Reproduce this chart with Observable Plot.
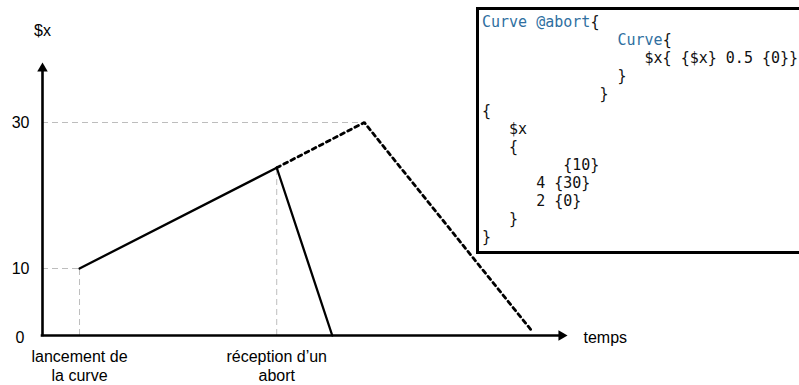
<!DOCTYPE html>
<html>
<head>
<meta charset="utf-8">
<script src="https://cdn.jsdelivr.net/npm/d3@7"></script>
<script src="https://cdn.jsdelivr.net/npm/@observablehq/plot@0.6"></script>
<style>
  html, body { margin: 0; padding: 0; background: #fff; overflow: hidden; }
  #wrap { position: relative; width: 799px; height: 385px; overflow: hidden; background: #fff; }
  #wrap svg { position: absolute; left: 0; top: 0; }
  #code {
    position: absolute; left: 476px; top: 7px; width: 420px; height: 247px;
    box-sizing: border-box; border: 3px solid #000; background: #fff;
    margin: 0; padding: 4px 0 0 3px;
    font-family: "DejaVu Sans Mono", monospace; font-size: 15px; line-height: 17.9px;
    color: #111; white-space: pre;
  }
  #code .ln { height: 17.9px; }
  #code .kw { color: #2f6f9f; }
</style>
</head>
<body>
<div id="wrap"></div>
<script>
// ---- data ----
const xStart = -0.52;          // time at the origin of the axes
const xEnd = 6.77;             // time at the end of the time axis
const yTop = 37.4;             // $x at the top of the value axis
const yTicks = [0, 10, 30];
const yLabel = "$x";
const xLabel = "temps";

const curveTime = [0, 2.77];           // lancement -> réception d'un abort
const curveValue = [10, 23.8];
const abortTime = [2.77, 3.55];        // descente après l'abort
const abortValue = [23.8, 0];
const plannedTime = [2.77, 4, 6.36];   // suite prévue (pointillés)
const plannedValue = [23.8, 30, 0.6];

const eventTimes = [0, 2.77];
const eventValues = [10, 23.8];
const eventLabels = ["lancement de\nla curve", "réception d’un\nabort"];

const peakTime = 4;
const peakValue = 30;

const codeLines = [
  "Curve @abort{",
  "               Curve{",
  "                  $x{ {$x} 0.5 {0}}",
  "               }",
  "             }",
  "{",
  "   $x",
  "   {",
  "         {10}",
  "      4 {30}",
  "      2 {0}",
  "   }",
  "}"
];
const codeKeywords = ["Curve", "@abort"];

// ---- tables built from the arrays ----
const curve = curveTime.map((t, i) => ({time: t, value: curveValue[i]}));
const abort = abortTime.map((t, i) => ({time: t, value: abortValue[i]}));
const planned = plannedTime.map((t, i) => ({time: t, value: plannedValue[i]}));
const events = eventTimes.map((t, i) => ({time: t, value: eventValues[i], label: eventLabels[i]}));
const guidesH = [{time: eventTimes[0], value: eventValues[0]}, {time: peakTime, value: peakValue}];
const guidesV = events;
const arrows = [{x: xStart, y: yTop, rotate: 0}, {x: xEnd, y: 0, rotate: 90}];

// schematic (non-uniform) value axis: piecewise stretch of $x
const stretch = d3.scaleLinear().domain([0, 10, 30, yTop]).range([0, 67, 213, 267]);

const chart = Plot.plot({
  width: 799,
  height: 385,
  x: {domain: [xStart, xEnd], range: [42, 561], axis: null},
  y: {transform: v => stretch(v), domain: [0, 267], range: [335, 68], axis: null},
  style: {fontFamily: "'Liberation Sans', Arial, Helvetica, sans-serif", fontSize: "16px", background: "white", color: "black"},
  marks: [
    // grey guides
    Plot.ruleY(guidesH, {y: "value", x1: xStart, x2: "time", stroke: "#bdbdbd", strokeWidth: 1, strokeDasharray: "6,4"}),
    Plot.ruleX(guidesV, {x: "time", y1: 0, y2: "value", stroke: "#bdbdbd", strokeWidth: 1, strokeDasharray: "6,4"}),
    // curves
    Plot.line(planned, {x: "time", y: "value", stroke: "black", strokeWidth: 2.8, strokeDasharray: "4,4", strokeLinejoin: "miter"}),
    Plot.line(curve, {x: "time", y: "value", stroke: "black", strokeWidth: 2.3}),
    Plot.line(abort, {x: "time", y: "value", stroke: "black", strokeWidth: 2.3}),
    // axes
    Plot.ruleY([0], {x1: xStart, x2: xEnd, stroke: "black", strokeWidth: 2.6, strokeLinecap: "square"}),
    Plot.ruleX([xStart], {y1: 0, y2: yTop, stroke: "black", strokeWidth: 2.6, strokeLinecap: "square"}),
    Plot.dot(arrows, {x: "x", y: "y", rotate: "rotate", symbol: "triangle", r: 3.9, fill: "black", stroke: "none"}),
    // tick labels
    Plot.text(yTicks.filter(d => d > 0), {x: xStart, y: d => d, text: d => String(d), textAnchor: "end", dx: -13, fill: "black"}),
    Plot.text(yTicks.filter(d => d === 0), {x: xStart, y: d => d, text: d => String(d), textAnchor: "end", dx: -18, dy: 2, fill: "black"}),
    Plot.text([yLabel], {x: xStart, y: yTop, text: d => d, dy: -38, fill: "black"}),
    Plot.text([xLabel], {x: xEnd, y: 0, text: d => d, textAnchor: "start", dx: 22, dy: 2, fill: "black"}),
    Plot.text(events, {x: "time", y: 0, text: "label", lineAnchor: "top", dy: 12.6, lineHeight: 1.19, fill: "black"})
  ]
});

const wrap = document.getElementById("wrap");
wrap.appendChild(chart);

// code box: one block per line, one span per token run
const box = document.createElement("div");
box.id = "code";
const kwRe = new RegExp("(" + codeKeywords.map(k => k.replace(/[$@]/g, m => "\\" + m)).join("|") + ")");
for (const line of codeLines) {
  const ln = document.createElement("div");
  ln.className = "ln";
  const parts = line.split(kwRe).filter(p => p.length);
  let pending = "";
  for (const p of parts) {
    const isKw = codeKeywords.includes(p);
    const s = document.createElement("span");
    if (isKw) s.className = "kw";
    s.textContent = p;
    ln.appendChild(s);
  }
  box.appendChild(ln);
}
wrap.appendChild(box);
</script>
</body>
</html>
